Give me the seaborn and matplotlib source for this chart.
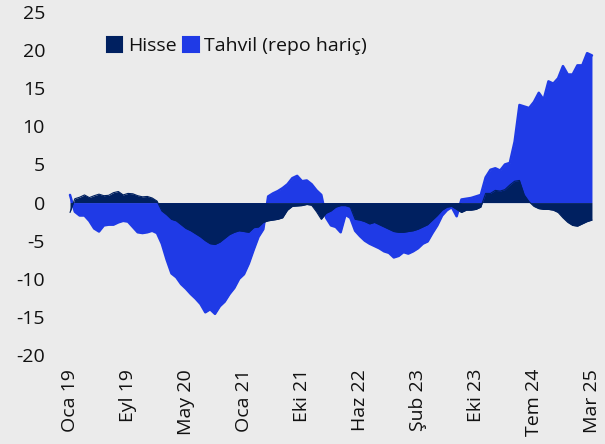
import numpy as np
import pandas as pd
import matplotlib
matplotlib.use("Agg")
import matplotlib.pyplot as plt
from matplotlib.patches import Patch
import seaborn as sns

# ---- data ----
tick_labels = ["Oca 19", "Eyl 19", "May 20", "Oca 21", "Eki 21",
               "Haz 22", "Şub 23", "Eki 23", "Tem 24", "Mar 25"]

hisse = [-1.3, 0.5, 0.7, 1.0, 0.65, 0.9, 1.1, 0.9, 0.95, 1.3,
         1.45, 1.0, 1.2, 1.15, 0.9, 0.75, 0.8, 0.6, 0.2, -1.1,
         -1.6, -2.2, -2.4, -2.9, -3.4, -3.7, -4.1, -4.5, -5.0, -5.4,
         -5.5, -5.2, -4.7, -4.2, -3.9, -3.7, -3.8, -3.9, -3.3, -3.2,
         -2.6, -2.4, -2.3, -2.2, -2.0, -1.0, -0.5, -0.45, -0.4, -0.25,
         -0.35, -1.2, -2.2, -1.4, -1.1, -0.6, -0.4, -0.4, -0.6, -2.2,
         -2.3, -2.5, -2.8, -2.6, -2.9, -3.2, -3.5, -3.8, -3.9, -3.9,
         -3.8, -3.7, -3.5, -3.2, -2.9, -2.3, -1.7, -1.0, -0.6, -0.5,
         -0.9, -1.3, -1.0, -1.0, -0.9, -0.6, 1.2, 1.2, 1.6, 1.5,
         1.7, 2.3, 2.8, 2.9, 1.0, 0.1, -0.5, -0.8, -0.9, -0.9,
         -1.0, -1.3, -2.0, -2.6, -3.0, -3.1, -2.8, -2.5, -2.3]

tahvil = [1.0, -1.2, -1.7, -1.7, -2.4, -3.4, -3.8, -3.0, -2.9, -2.9,
          -2.6, -2.4, -2.5, -3.2, -3.9, -4.0, -3.9, -3.7, -4.0, -5.4,
          -7.5, -9.3, -9.8, -10.7, -11.3, -12.0, -12.6, -13.3, -14.4, -14.0,
          -14.6, -13.6, -13.0, -12.0, -11.2, -10.0, -9.4, -8.0, -6.2, -4.5,
          -3.5, 0.8, 1.2, 1.5, 1.9, 2.4, 3.2, 3.5, 2.8, 2.9,
          2.4, 1.6, 1.0, -2.0, -3.0, -3.2, -3.9, -1.6, -2.0, -3.7,
          -4.4, -5.0, -5.4, -5.7, -6.0, -6.4, -6.6, -7.2, -7.0, -6.5,
          -6.7, -6.4, -6.0, -5.4, -5.1, -4.0, -3.0, -1.7, -1.0, -0.6,
          -1.8, 0.4, 0.5, 0.6, 0.8, 1.0, 3.3, 4.3, 4.5, 4.2,
          5.0, 5.2, 8.0, 12.8, 12.6, 12.4, 13.2, 14.4, 13.5, 15.9,
          15.6, 16.3, 17.9, 16.8, 16.8, 18.0, 18.0, 19.6, 19.3]

series_names = ["Hisse", "Tahvil (repo hariç)"]

# ---- styling ----
BG = "#ebebeb"
NAVY = "#002060"
BLUE = "#1f3ae6"
TXT = "#111111"
FS = 14

sns.set_theme(style="white")
plt.rcParams["font.family"] = ["Open Sans", "DejaVu Sans"]

n = len(hisse)
df = pd.DataFrame({"i": np.arange(n), "Hisse": hisse, "Tahvil": tahvil})

fig = plt.figure(figsize=(6.05, 4.44), dpi=100)
fig.patch.set_facecolor(BG)
ax = fig.add_axes([52 / 605, 89 / 444, 548 / 605, 343 / 444])
ax.set_facecolor(BG)

# Tahvil area (drawn first) and its outline
ax.fill_between(df["i"], 0, df["Tahvil"], color=BLUE, linewidth=0, zorder=1)
sns.lineplot(data=df, x="i", y="Tahvil", color=BLUE, linewidth=1.8, ax=ax, zorder=1.5)
# Hisse area on top
ax.fill_between(df["i"], 0, df["Hisse"], color=NAVY, linewidth=0, zorder=2)
sns.lineplot(data=df, x="i", y="Hisse", color=NAVY, linewidth=0.8, ax=ax, zorder=2.5)

step = (n - 1) / (len(tick_labels) - 1)
ax.set_xticks([k * step for k in range(len(tick_labels))])
ax.set_xticklabels(tick_labels, rotation=90, fontsize=FS, color=TXT)
ax.set_yticks(range(-20, 26, 5))
ax.set_yticklabels([str(v) for v in range(-20, 26, 5)], fontsize=FS, color=TXT)
ax.tick_params(axis="x", length=0, pad=10)
ax.tick_params(axis="y", length=0, pad=5)
ax.set_xlim((52 - 70) / 4.833, (600 - 70) / 4.833)
ax.set_ylim(-20, 25)
ax.set_xlabel("")
ax.set_ylabel("")
for s in ax.spines.values():
    s.set_visible(False)
ax.grid(False)

handles = [Patch(facecolor=NAVY, edgecolor=NAVY, linewidth=1.5, joinstyle="round",
                 label=series_names[0]),
           Patch(facecolor=BLUE, edgecolor=BLUE, linewidth=1.5, joinstyle="round",
                 label=series_names[1])]
leg = fig.legend(handles=handles, ncol=2, loc="center left",
                 bbox_to_anchor=(107 / 605, 1 - 46 / 444), frameon=False,
                 handlelength=0.78, handleheight=0.78, handletextpad=0.3,
                 columnspacing=0.35, borderpad=0, borderaxespad=0, fontsize=FS)
for t in leg.get_texts():
    t.set_color(TXT)

fig.savefig("out.png", dpi=100, facecolor=BG)
